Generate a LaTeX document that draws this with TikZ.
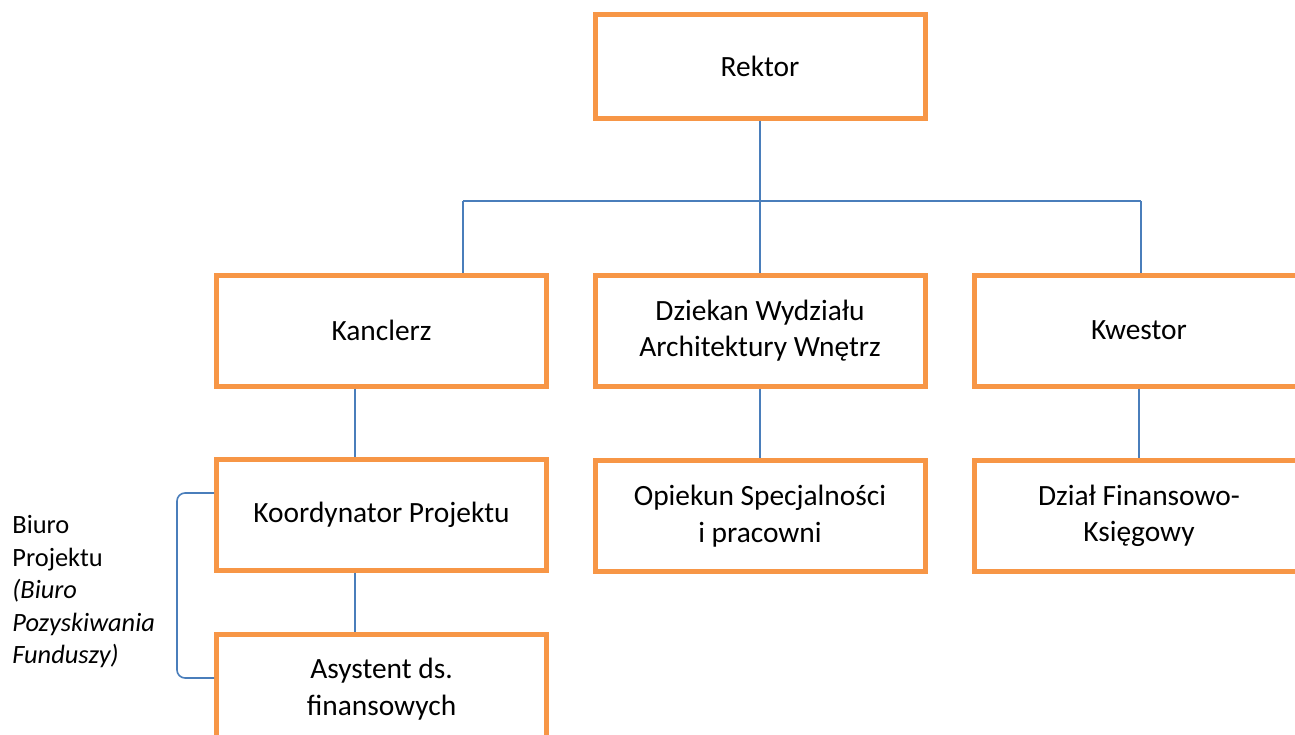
\documentclass[tikz,border=0pt]{standalone}
\usepackage{fontspec}
\setmainfont{Carlito}
\definecolor{postorange}{HTML}{F79646}
\definecolor{linkblue}{HTML}{4A7EBB}
\tikzset{
  post/.style={rectangle, draw=postorange, line width=2.5pt, fill=white,
    minimum width=165pt, minimum height=55.5pt, inner sep=0pt,
    align=center, font=\fontsize{14.7}{18.3}\selectfont},
  link/.style={draw=linkblue, line width=0.8pt},
  sidenote/.style={align=left, inner sep=0pt, font=\fontsize{13.2}{16.3}\selectfont},
}
\begin{document}
\begin{tikzpicture}[x=0.5pt,y=-0.5pt]
  \path[use as bounding box, clip] (0,0) rectangle (1295,734);
  %% top
  \node[post, minimum height=52pt] (rektor) at (760,66) {Rektor};
  %% second row
  \node[post] (kanclerz) at (381.5,330.5) {Kanclerz};
  \node[post] (dziekan) at (760,330.5) {Dziekan Wydziału\\Architektury Wnętrz};
  \node[post] (kwestor) at (1139,330.5) {Kwestor};
  %% third row
  \node[post] (koord) at (381.5,514.5) {Koordynator Projektu};
  \node[post] (opiekun) at (760,516) {Opiekun Specjalności\\i pracowni};
  \node[post] (dzial) at (1139,516) {Dział Finansowo-\\Księgowy};
  %% bottom
  \node[post, minimum height=55pt] (asyst) at (381.5,689) {Asystent ds.\\finansowych};
  %% bus under Rektor
  \coordinate (busL) at (463,201);
  \coordinate (busR) at (1141,201);
  \draw[link] (rektor.south) -- (rektor.south |- busL);
  \draw[link] (busL) -- (busR);
  \draw[link] (busL) -- (busL |- kanclerz.north);
  \draw[link] (dziekan.north) -- (dziekan.north |- busL);
  \draw[link] (busR) -- (busR |- kwestor.north);
  %% down the columns
  \coordinate (colK) at (355,0);
  \draw[link] (kanclerz.south -| colK) -- (koord.north -| colK);
  \draw[link] (koord.south -| colK) -- (asyst.north -| colK);
  \draw[link] (dziekan.south) -- (opiekun.north);
  \draw[link] (kwestor.south) -- (dzial.north);
  %% bracket and note
  \coordinate (brtop) at (177,493);
  \coordinate (brbot) at (177,678);
  \draw[link, rounded corners=4pt] (koord.west |- brtop) -- (brtop) -- (brbot) -- (asyst.west |- brbot);
  \node[sidenote, anchor=north west] (biuro) at (12,515)
    {Biuro\\Projektu\\\textit{(Biuro}\\\textit{Pozyskiwania}\\\textit{Funduszy)}};
\end{tikzpicture}
\end{document}
